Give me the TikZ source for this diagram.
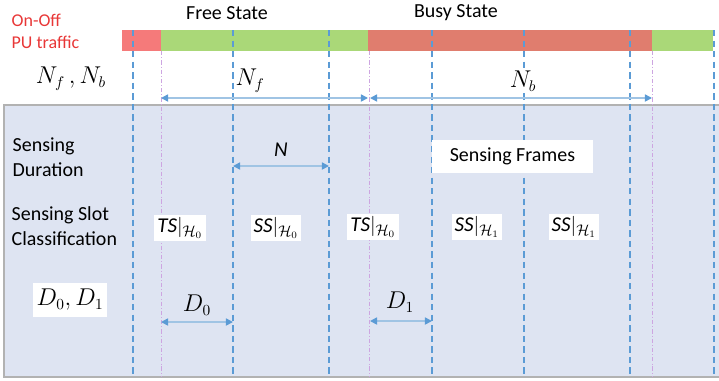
\documentclass[tikz,border=0pt]{standalone}
\usepackage{amsmath}
\usepackage{fontspec}
\setmainfont{Carlito}
\usetikzlibrary{arrows.meta,positioning}

\definecolor{offred}{RGB}{245,122,122}
\definecolor{busyred}{RGB}{224,125,110}
\definecolor{freegreen}{RGB}{170,216,120}
\definecolor{panelblue}{RGB}{222,228,242}
\definecolor{slotblue}{RGB}{91,155,213}
\definecolor{dimblue}{RGB}{160,196,228}
\definecolor{edgepurple}{RGB}{205,165,225}
\definecolor{trafficred}{RGB}{232,55,55}

\begin{document}
\begin{tikzpicture}[
    x=0.25mm, y=-0.25mm,
    txt/.style={font=\fontsize{14.2}{17.5}\selectfont, align=left, inner sep=1pt},
    mathtxt/.style={font=\fontsize{16}{18}\selectfont, inner sep=1pt},
    tag/.style={fill=white, inner sep=2pt, font=\fontsize{15}{17}\selectfont},
    slotline/.style={slotblue, line width=0.8pt, dash pattern=on 4.5pt off 3pt},
    edgeline/.style={edgepurple, line width=0.5pt, dash pattern=on 3pt off 1.5pt on 0.6pt off 1.5pt},
    dim/.style={{Triangle[length=5pt,width=5pt,color=slotblue]}-{Triangle[length=5pt,width=5pt,color=slotblue]}, dimblue, line width=1.1pt}
]
    \useasboundingbox (0,0) rectangle (719,380);

    % Panel
    \fill[panelblue] (4,105) rectangle (719,377);
    \draw[gray!60, line width=0.8pt] (719,105) -- (4,105) -- (4,377) -- (719,377);

    % On-Off PU traffic
    \fill[offred] (122,30) rectangle (161,51);
    \fill[freegreen] (161,30) rectangle (368,51);
    \fill[busyred] (368,30) rectangle (652,51);
    \fill[freegreen] (652,30) rectangle (713,51);

    % State boundaries
    \foreach \x in {161,369,652}
        \draw[edgeline] (\x,51) -- (\x,377);

    % Sensing slots
    \foreach \x in {133,233,329,432,524,630,714}
        \draw[slotline] (\x,30) -- (\x,377);

    % Labels at the left
    \node[txt, anchor=west, text=trafficred, font=\fontsize{12.8}{15.6}\selectfont] (traffic) at (10,31) {On-Off\\PU traffic};
    \node[txt] (free) at (227,13) {Free State};
    \node[txt] (busy) at (456,13) {Busy State};
    \node[mathtxt] (nfnb) at (71,79) {$N_f\,, N_b$};
    \node[txt, anchor=west] (duration) at (11,157) {Sensing\\Duration};
    \node[txt, anchor=west] (classes) at (10,226) {Sensing Slot\\Classification};
    \node[mathtxt, fill=white, minimum width=53pt, minimum height=24pt, inner sep=0pt] (dd) at (70,300) {$D_0, D_1$};

    % State lengths
    \node[mathtxt, fill=white] (nf) at (250,81) {$N_f$};
    \node[mathtxt, fill=white] (nb) at (523,81) {$N_b$};
    \coordinate (nfL) at (161,98);
    \coordinate (nfR) at (368,98);
    \coordinate (nbL) at (370,98);
    \coordinate (nbR) at (652,98);
    \draw[dim] (nfL) -- (nfR);
    \draw[dim] (nbL) -- (nbR);

    % Sensing duration
    \node[txt, font=\fontsize{15}{17}\selectfont] (n) at (281,150) {\itshape N};
    \coordinate (nL) at (233,166);
    \coordinate (nR) at (329,166);
    \draw[dim] (nL) -- (nR);
    \node[txt, fill=white, minimum width=114.5pt, minimum height=23.5pt, inner sep=0pt] (frames) at (512.5,156.5) {Sensing Frames};

    % Slot classification
    \node[tag] (ts0) at (180,228) {\itshape TS$|_{\mathcal{H}_0}$};
    \node[tag] (ss0) at (276,228) {\itshape SS$|_{\mathcal{H}_0}$};
    \node[tag] (ts1) at (373,227) {\itshape TS$|_{\mathcal{H}_0}$};
    \node[tag] (ss1) at (477,227) {\itshape SS$|_{\mathcal{H}_1}$};
    \node[tag] (ss2) at (574,227) {\itshape SS$|_{\mathcal{H}_1}$};

    % Detection delays
    \node[mathtxt] (d0) at (197,305) {$D_0$};
    \node[mathtxt] (d1) at (400,302) {$D_1$};
    \coordinate (d0L) at (161,322);
    \coordinate (d0R) at (233,322);
    \coordinate (d1L) at (370,321);
    \coordinate (d1R) at (432,321);
    \draw[dim] (d0L) -- (d0R);
    \draw[dim] (d1L) -- (d1R);
\end{tikzpicture}
\end{document}
